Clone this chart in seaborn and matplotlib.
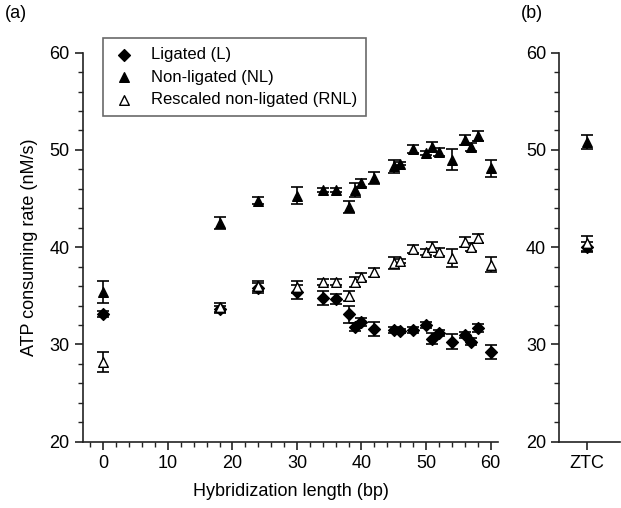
import matplotlib
matplotlib.use("Agg")
import matplotlib.pyplot as plt
from matplotlib.ticker import MultipleLocator
import seaborn as sns

# ---------------------------------------------------------------------------
# Data
# ---------------------------------------------------------------------------
hyb_len = [0, 18, 24, 30, 34, 36, 38, 39, 40, 42, 45, 46, 48, 50, 51, 52, 54, 56, 57, 58, 60]

lig = [33.1, 33.6, 35.8, 35.4, 34.8, 34.7, 33.1, 31.8, 32.3, 31.6, 31.5,
       31.4, 31.5, 32.0, 30.6, 31.2, 30.3, 31.0, 30.3, 31.7, 29.2]
lig_err = [0.3, 0.4, 0.5, 0.7, 0.7, 0.5, 0.9, 0.4, 0.4, 0.7, 0.3,
           0.2, 0.3, 0.3, 0.6, 0.3, 0.8, 0.3, 0.4, 0.4, 0.7]

nonlig = [35.4, 42.5, 44.8, 45.3, 45.9, 45.9, 44.1, 45.9, 46.6, 47.1, 48.3,
          48.6, 50.1, 49.7, 50.3, 49.8, 49.0, 51.0, 50.3, 51.4, 48.1]
nonlig_err = [1.1, 0.6, 0.4, 0.9, 0.2, 0.2, 0.6, 0.7, 0.4, 0.6, 0.7,
              0.2, 0.4, 0.2, 0.5, 0.4, 1.1, 0.5, 0.4, 0.5, 0.9]

rescaled = [28.2, 33.8, 36.0, 35.9, 36.4, 36.4, 35.0, 36.4, 36.9, 37.4, 38.4,
            38.6, 39.8, 39.5, 40.0, 39.5, 38.9, 40.5, 40.0, 40.9, 38.2]
rescaled_err = [1.0, 0.5, 0.5, 0.6, 0.3, 0.3, 0.5, 0.5, 0.4, 0.5, 0.6,
                0.2, 0.4, 0.3, 0.5, 0.4, 0.9, 0.5, 0.4, 0.5, 0.8]

ztc_label = ["ZTC"]
ztc_lig, ztc_lig_err = [40.0], [0.5]
ztc_nonlig, ztc_nonlig_err = [50.8], [0.75]
ztc_rescaled, ztc_rescaled_err = [40.4], [0.8]

# ---------------------------------------------------------------------------
# Style
# ---------------------------------------------------------------------------
sns.set_style("ticks")
plt.rcParams["font.family"] = ["Liberation Sans", "DejaVu Sans"]
plt.rcParams["font.size"] = 13
plt.rcParams["text.color"] = "black"
plt.rcParams["axes.labelcolor"] = "black"
plt.rcParams["xtick.color"] = "#222222"
plt.rcParams["ytick.color"] = "#222222"
plt.rcParams["xtick.labelcolor"] = "black"
plt.rcParams["ytick.labelcolor"] = "black"
plt.rcParams["axes.edgecolor"] = "#222222"
plt.rcParams["axes.linewidth"] = 1.2
plt.rcParams["xtick.major.width"] = 1.2
plt.rcParams["ytick.major.width"] = 1.2
plt.rcParams["xtick.minor.width"] = 1.0
plt.rcParams["ytick.minor.width"] = 1.0

fig = plt.figure(figsize=(6.21, 5.08), dpi=100)
ax = fig.add_axes([0.1332, 0.1305, 0.6692, 0.7658])
axb = fig.add_axes([0.9006, 0.1305, 0.0984, 0.7658])

err_kw = dict(fmt="none", ecolor="black", elinewidth=1.2, capsize=4, capthick=1.2)


def draw(a, xs, series):
    for vals, errs, marker, face, size, label in series:
        a.errorbar(xs, vals, yerr=errs, zorder=2, **err_kw)
        sns.scatterplot(x=xs, y=vals, marker=marker, color=face, edgecolor="black",
                        linewidth=1.0, s=size, ax=a, zorder=3, label=label)


draw(ax, hyb_len, [
    (lig, lig_err, "D", "black", 36, "Ligated (L)"),
    (nonlig, nonlig_err, "^", "black", 48, "Non-ligated (NL)"),
    (rescaled, rescaled_err, "^", "white", 48, "Rescaled non-ligated (RNL)"),
])
draw(axb, [0], [
    (ztc_lig, ztc_lig_err, "D", "black", 36, None),
    (ztc_nonlig, ztc_nonlig_err, "^", "black", 48, None),
    (ztc_rescaled, ztc_rescaled_err, "^", "white", 48, None),
])

for a in (ax, axb):
    sns.despine(ax=a)
    a.set_ylim(20, 60)
    a.yaxis.set_major_locator(MultipleLocator(10))
    a.yaxis.set_minor_locator(MultipleLocator(2))
    a.tick_params(which="major", length=6, labelsize=13)
    a.tick_params(which="minor", length=3.5)

ax.set_xlim(-3.2, 61.2)
ax.xaxis.set_major_locator(MultipleLocator(10))
ax.xaxis.set_minor_locator(MultipleLocator(2))
ax.set_xlabel("Hybridization length (bp)", fontsize=13, labelpad=8)
ax.set_ylabel("ATP consuming rate (nM/s)", fontsize=13, labelpad=8)

axb.set_xlim(-0.45, 0.55)
axb.set_xticks([0])
axb.set_xticklabels(ztc_label)
axb.set_ylabel("")
if axb.get_legend():
    axb.get_legend().remove()

leg = ax.legend(loc="upper left", bbox_to_anchor=(0.049, 1.038), fontsize=12,
                frameon=True, fancybox=False, edgecolor="#444444",
                handlelength=1.4, handletextpad=0.9, borderpad=0.55,
                labelspacing=0.45, borderaxespad=0)
leg.get_frame().set_linewidth(1.2)

fig.text(0.008, 0.965, "(a)", fontsize=13)
fig.text(0.838, 0.965, "(b)", fontsize=13)

fig.savefig("out.png", dpi=100)
